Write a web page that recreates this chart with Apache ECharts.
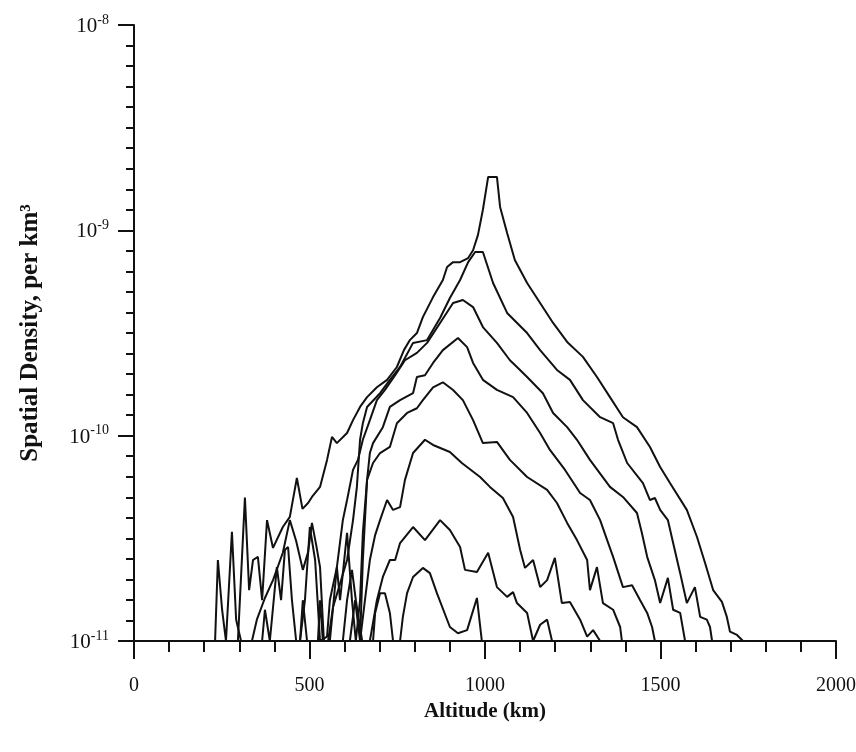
<!DOCTYPE html>
<html>
<head>
<meta charset="utf-8">
<script src="https://cdn.jsdelivr.net/npm/echarts@6/dist/echarts.min.js"></script>
<style>
html, body {
  margin: 0;
  padding: 0;
  background: #fff;
}
#chart {
  width: 856px;
  height: 752px;
}
</style>
</head>
<body>
<div id="chart"></div>
<script>
// altitude (km), spatial density (per km^3)
var curveA = [
  [296, 1e-11], [316, 5.0e-11], [328, 1.77e-11], [339, 2.48e-11], [353, 2.57e-11], [365, 1.58e-11],
  [379, 3.88e-11], [396, 2.84e-11], [424, 3.59e-11], [444, 4.02e-11], [464, 6.22e-11], [480, 4.4e-11],
  [496, 4.7e-11], [507, 5.03e-11], [530, 5.63e-11], [550, 7.62e-11], [564, 9.86e-11], [578, 9.2e-11], [607, 1.03e-10],
  [624, 1.19e-10], [644, 1.38e-10], [664, 1.54e-10], [692, 1.72e-10], [721, 1.87e-10], [749, 2.16e-10],
  [769, 2.61e-10], [786, 2.92e-10], [806, 3.16e-10], [823, 3.78e-10], [852, 4.73e-10], [880, 5.73e-10],
  [892, 6.63e-10], [909, 7.0e-10], [929, 7.0e-10], [952, 7.33e-10], [966, 8.0e-10], [980, 9.5e-10],
  [994, 1.26e-9], [1009, 1.82e-9], [1034, 1.82e-9], [1043, 1.30e-9], [1063, 9.7e-10], [1085, 7.17e-10],
  [1120, 5.54e-10], [1157, 4.43e-10], [1194, 3.54e-10], [1234, 2.86e-10], [1279, 2.42e-10], [1319, 1.93e-10],
  [1356, 1.54e-10], [1393, 1.23e-10], [1433, 1.10e-10], [1470, 8.81e-11], [1499, 7.04e-11], [1527, 5.88e-11],
  [1575, 4.35e-11], [1604, 3.21e-11], [1627, 2.4e-11], [1650, 1.77e-11], [1675, 1.55e-11], [1689, 1.31e-11],
  [1698, 1.11e-11], [1718, 1.07e-11], [1735, 1e-11]
];
var curveB = [
  [231, 1e-11], [239, 2.48e-11], [251, 1.42e-11], [262, 1e-11], [279, 3.4e-11], [291, 1.27e-11],
  [305, 1e-11], [336, 1e-11], [350, 1.27e-11], [373, 1.62e-11], [396, 1.98e-11], [424, 2.69e-11],
  [444, 3.88e-11], [462, 3.07e-11], [481, 2.22e-11], [496, 2.71e-11], [507, 3.76e-11], [519, 2.94e-11],
  [530, 2.29e-11], [541, 1e-11], [553, 1e-11], [567, 1.46e-11], [607, 2.48e-11], [624, 3.88e-11],
  [635, 5.63e-11], [644, 9.55e-11], [652, 1.15e-10], [664, 1.38e-10], [701, 1.61e-10], [729, 1.87e-10],
  [758, 2.16e-10], [795, 2.83e-10], [835, 2.92e-10], [872, 3.74e-10], [900, 4.68e-10], [929, 5.73e-10],
  [952, 7.0e-10], [972, 7.84e-10], [994, 7.84e-10], [1023, 5.54e-10], [1063, 3.96e-10], [1120, 3.16e-10],
  [1157, 2.61e-10], [1205, 2.09e-10], [1242, 1.87e-10], [1279, 1.49e-10], [1328, 1.23e-10], [1365, 1.15e-10],
  [1379, 9.55e-11], [1405, 7.36e-11], [1450, 5.88e-11], [1470, 4.86e-11], [1484, 4.97e-11], [1499, 4.35e-11],
  [1521, 3.88e-11], [1536, 3.0e-11], [1556, 2.14e-11], [1575, 1.53e-11], [1598, 1.83e-11], [1613, 1.31e-11],
  [1632, 1.27e-11], [1641, 1.17e-11], [1647, 1e-11]
];
var curveC = [
  [365, 1e-11], [373, 1.42e-11], [387, 1e-11], [407, 2.29e-11], [419, 1.58e-11], [430, 2.78e-11],
  [439, 2.87e-11], [450, 1.58e-11], [462, 1e-11], [473, 1e-11], [487, 1.58e-11], [501, 3.59e-11],
  [516, 2.48e-11], [530, 1e-11], [550, 1.05e-11], [558, 1.58e-11], [578, 2.29e-11], [595, 3.88e-11],
  [607, 4.86e-11], [624, 6.81e-11], [638, 7.62e-11], [652, 9.55e-11], [672, 1.19e-10], [692, 1.49e-10],
  [715, 1.67e-10], [744, 1.97e-10], [772, 2.33e-10], [806, 2.53e-10], [835, 2.83e-10], [872, 3.54e-10],
  [909, 4.43e-10], [937, 4.58e-10], [966, 4.23e-10], [994, 3.38e-10], [1034, 2.83e-10], [1071, 2.33e-10],
  [1091, 2.16e-10], [1120, 1.93e-10], [1165, 1.61e-10], [1194, 1.29e-10], [1234, 1.10e-10], [1262, 9.55e-11],
  [1299, 7.62e-11], [1356, 5.63e-11], [1393, 5.03e-11], [1433, 4.20e-11], [1447, 3.36e-11], [1462, 2.57e-11],
  [1484, 1.98e-11], [1499, 1.53e-11], [1521, 2.03e-11], [1536, 1.42e-11], [1556, 1.37e-11], [1570, 1e-11]
];
var curveD = [
  [473, 1e-11], [481, 1.58e-11], [493, 1e-11], [558, 1e-11], [578, 2.29e-11], [587, 1.58e-11],
  [607, 3.36e-11], [621, 1.58e-11], [632, 1e-11], [644, 1.58e-11], [652, 3.36e-11], [664, 6.09e-11],
  [672, 8.23e-11], [681, 9.2e-11], [709, 1.10e-10], [729, 1.38e-10], [758, 1.49e-10], [795, 1.61e-10],
  [806, 1.93e-10], [829, 1.97e-10], [852, 2.26e-10], [880, 2.61e-10], [923, 2.99e-10], [949, 2.70e-10],
  [966, 2.26e-10], [994, 1.87e-10], [1034, 1.67e-10], [1080, 1.54e-10], [1120, 1.29e-10], [1157, 1.03e-10],
  [1185, 8.52e-11], [1228, 6.81e-11], [1271, 5.26e-11], [1299, 4.86e-11], [1328, 3.88e-11], [1348, 3.10e-11],
  [1365, 2.57e-11], [1393, 1.83e-11], [1419, 1.87e-11], [1442, 1.58e-11], [1462, 1.37e-11], [1476, 1.17e-11],
  [1484, 1e-11]
];
var curveE = [
  [524, 1e-11], [530, 1.58e-11], [538, 1e-11], [615, 1e-11], [630, 1.58e-11], [644, 1e-11],
  [652, 2.48e-11], [664, 6.09e-11], [681, 7.36e-11], [701, 8.23e-11], [729, 8.81e-11], [749, 1.15e-10],
  [778, 1.29e-10], [806, 1.36e-10], [823, 1.49e-10], [852, 1.72e-10], [880, 1.82e-10], [909, 1.67e-10],
  [937, 1.49e-10], [966, 1.19e-10], [994, 9.2e-11], [1034, 9.32e-11], [1071, 7.62e-11], [1120, 6.29e-11],
  [1177, 5.44e-11], [1205, 4.70e-11], [1234, 3.76e-11], [1262, 3.10e-11], [1291, 2.48e-11], [1299, 1.77e-11],
  [1319, 2.29e-11], [1336, 1.53e-11], [1365, 1.42e-11], [1385, 1.17e-11], [1390, 1e-11]
];
var curveF = [
  [644, 1e-11], [658, 1.58e-11], [672, 2.48e-11], [687, 3.28e-11], [701, 3.88e-11], [721, 4.86e-11],
  [738, 4.35e-11], [758, 4.49e-11], [772, 6.09e-11], [795, 8.23e-11], [829, 9.55e-11], [852, 9.01e-11],
  [900, 8.33e-11], [934, 7.36e-11], [986, 6.29e-11], [1014, 5.63e-11], [1051, 4.97e-11], [1080, 4.02e-11],
  [1100, 2.78e-11], [1114, 2.27e-11], [1137, 2.48e-11], [1157, 1.83e-11], [1177, 1.98e-11], [1199, 2.54e-11],
  [1219, 1.53e-11], [1242, 1.55e-11], [1271, 1.27e-11], [1291, 1.05e-11], [1308, 1.13e-11], [1328, 1e-11]
];
var curveG = [
  [595, 1e-11], [607, 1.58e-11], [621, 2.22e-11], [632, 1.58e-11], [650, 1e-11], [672, 1e-11],
  [692, 1.58e-11], [709, 2.05e-11], [729, 2.48e-11], [744, 2.48e-11], [758, 3.0e-11], [795, 3.59e-11],
  [829, 3.10e-11], [872, 3.88e-11], [900, 3.47e-11], [929, 2.87e-11], [943, 2.22e-11], [977, 2.17e-11],
  [1009, 2.69e-11], [1034, 1.83e-11], [1063, 1.64e-11], [1080, 1.73e-11], [1091, 1.53e-11], [1120, 1.37e-11],
  [1137, 1e-11], [1157, 1.2e-11], [1177, 1.27e-11], [1191, 1e-11]
];
var curveH = [
  [681, 1e-11], [687, 1.37e-11], [701, 1.71e-11], [715, 1.71e-11], [729, 1.37e-11], [738, 1e-11],
  [758, 1e-11], [766, 1.31e-11], [778, 1.71e-11], [795, 2.05e-11], [823, 2.27e-11], [843, 2.14e-11],
  [863, 1.71e-11], [900, 1.17e-11], [923, 1.09e-11], [949, 1.13e-11], [977, 1.62e-11], [991, 1e-11]
];

var curves = [curveA, curveB, curveC, curveD, curveE, curveF, curveG, curveH];
var xLabels = ['0', '500', '1000', '1500', '2000'];

var ink = '#111';
var serif = 'Liberation Serif';

var chart = echarts.init(document.getElementById('chart'), null, { renderer: 'canvas' });

var option = {
  animation: false,
  backgroundColor: '#fff',
  grid: { left: 134, right: 20, top: 25, bottom: 111, outerBoundsMode: 'none', containLabel: false },
  xAxis: [
    {
      type: 'value',
      min: 0,
      max: 2000,
      interval: 500,
      name: 'Altitude (km)',
      nameLocation: 'middle',
      nameGap: 60,
      nameTextStyle: { fontFamily: serif, fontWeight: 'bold', fontSize: 21, color: ink },
      axisLine: { lineStyle: { color: ink, width: 2 } },
      axisTick: { length: 18, lineStyle: { color: ink, width: 2 } },
      splitLine: { show: false },
      axisLabel: {
        margin: 35,
        fontFamily: serif,
        fontSize: 20,
        color: ink,
        formatter: function (v) { return xLabels[v / 500]; }
      }
    },
    {
      type: 'value',
      min: 0,
      max: 2000,
      interval: 100,
      position: 'bottom',
      axisLine: { show: false },
      axisTick: { length: 11, lineStyle: { color: ink, width: 2 } },
      axisLabel: { show: false },
      splitLine: { show: false }
    }
  ],
  yAxis: [
    {
      type: 'log',
      logBase: 10,
      min: 1e-11,
      max: 1e-8,
      name: 'Spatial Density, per km³',
      nameLocation: 'middle',
      nameGap: 91,
      nameRotate: 90,
      nameTextStyle: { fontFamily: serif, fontWeight: 'bold', fontSize: 25, color: ink },
      axisLine: { lineStyle: { color: ink, width: 2 } },
      axisTick: { length: 16, lineStyle: { color: ink, width: 2 } },
      splitLine: { show: false },
      axisLabel: {
        margin: 25,
        formatter: function (v) {
          var e = Math.round(Math.log10(v));
          return '{b|10}{s|' + e + '}';
        },
        rich: {
          b: { fontFamily: serif, fontSize: 21, color: ink, lineHeight: 24, verticalAlign: 'bottom' },
          s: { fontFamily: serif, fontSize: 14, color: ink, lineHeight: 24, verticalAlign: 'top', padding: [0, 0, 8, 0] }
        }
      }
    },
    {
      type: 'value',
      min: 0,
      max: 30,
      interval: 1,
      position: 'left',
      axisLine: { show: false },
      axisTick: { length: 8, lineStyle: { color: ink, width: 2 } },
      axisLabel: { show: false },
      splitLine: { show: false }
    }
  ],
  series: curves.map(function (c) {
    return {
      type: 'line',
      xAxisIndex: 0,
      yAxisIndex: 0,
      data: c,
      showSymbol: false,
      symbol: 'none',
      lineStyle: { color: ink, width: 2 },
      silent: true
    };
  })
};

chart.setOption(option);
</script>
</body>
</html>
